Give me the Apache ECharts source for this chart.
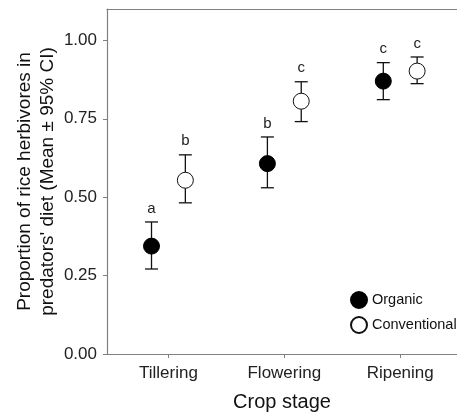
<!DOCTYPE html>
<html>
<head>
<meta charset="utf-8">
<script src="https://cdn.jsdelivr.net/npm/echarts@6/dist/echarts.min.js"></script>
<style>
  html, body { margin: 0; padding: 0; background: #fff; }
  #chart { width: 457px; height: 412px; }
</style>
</head>
<body>
<div id="chart"></div>
<script>
'use strict';

// values (proportion, mean and 95% CI)
const stages = ['Tillering', 'Flowering', 'Ripening'];
const organicMean = [0.344, 0.607, 0.870];
const organicLow = [0.271, 0.530, 0.811];
const organicHigh = [0.421, 0.692, 0.929];
const convMean = [0.554, 0.806, 0.902];
const convLow = [0.482, 0.741, 0.862];
const convHigh = [0.635, 0.868, 0.947];
const organicLetters = ['a', 'b', 'c'];
const convLetters = ['b', 'c', 'c'];
const yTicks = [0, 0.25, 0.5, 0.75, 1.0];

const FONT = '"Liberation Sans", Arial, sans-serif';
const dodge = 0.146;
const stageX = stages.map((s, i) => i + 1);

function errorBars(low, high, letters, shift) {
  return {
    type: 'custom',
    z: 2,
    silent: true,
    encode: { x: 0, y: [1, 2] },
    data: stageX.map((x, i) => [x + shift, low[i], high[i]]),
    renderItem: function (params, api) {
      const x = api.value(0);
      const lo = api.coord([x, api.value(1)]);
      const hi = api.coord([x, api.value(2)]);
      const half = 6.5;
      const stroke = { stroke: '#111', lineWidth: 1.3 };
      return {
        type: 'group',
        children: [
          { type: 'line', shape: { x1: lo[0], y1: lo[1], x2: hi[0], y2: hi[1] }, style: stroke },
          { type: 'line', shape: { x1: lo[0] - half, y1: lo[1], x2: lo[0] + half, y2: lo[1] }, style: stroke },
          { type: 'line', shape: { x1: hi[0] - half, y1: hi[1], x2: hi[0] + half, y2: hi[1] }, style: stroke },
          {
            type: 'text',
            style: {
              text: letters[params.dataIndex],
              x: hi[0], y: hi[1] - 13.5,
              align: 'center', verticalAlign: 'middle',
              font: '15px ' + FONT, fill: '#222'
            }
          }
        ]
      };
    }
  };
}

const chart = echarts.init(document.getElementById('chart'), null, { renderer: 'canvas' });

chart.setOption({
  animation: false,
  backgroundColor: '#fff',
  textStyle: { fontFamily: FONT },
  grid: { left: 107, right: 0, top: 9, bottom: 58, containLabel: false, outerBoundsMode: 'none' },
  legend: {
    orient: 'vertical',
    left: 350,
    top: 291,
    padding: 0,
    itemWidth: 16,
    itemHeight: 16,
    itemGap: 7,
    icon: 'circle',
    textStyle: { fontSize: 14.5, color: '#111', fontFamily: FONT },
    data: ['Organic', 'Conventional']
  },
  xAxis: [{
    type: 'value',
    min: 0.47,
    max: 3.49,
    name: 'Crop stage',
    nameLocation: 'middle',
    nameGap: 38,
    nameMoveOverlap: false,
    nameTextStyle: { fontSize: 20, color: '#111', fontFamily: FONT },
    axisLine: { show: true, lineStyle: { color: '#808080', width: 1.2 } },
    axisTick: { show: true, length: 4, customValues: stageX, lineStyle: { color: '#808080' } },
    axisLabel: {
      customValues: stageX,
      formatter: v => stages[Math.round(v) - 1],
      fontSize: 17, color: '#222', margin: 11, fontFamily: FONT
    },
    splitLine: { show: false }
  }, {
    type: 'value',
    position: 'top',
    min: 0.47,
    max: 3.49,
    axisLine: { show: true, lineStyle: { color: '#808080', width: 1.2 } },
    axisTick: { show: false },
    axisLabel: { show: false },
    splitLine: { show: false }
  }],
  yAxis: {
    type: 'value',
    min: 0,
    max: 1.1,
    name: 'Proportion of rice herbivores in\npredators\' diet (Mean \u00b1 95% CI)',
    nameLocation: 'middle',
    nameGap: 48,
    nameMoveOverlap: false,
    nameTextStyle: { fontSize: 19, lineHeight: 23, color: '#111', fontFamily: FONT },
    axisLine: { show: true, lineStyle: { color: '#808080', width: 1.2 } },
    axisTick: { show: true, length: 4, customValues: yTicks, lineStyle: { color: '#808080' } },
    axisLabel: {
      customValues: yTicks,
      formatter: v => v.toFixed(2),
      fontSize: 17, color: '#222', margin: 10, fontFamily: FONT
    },
    splitLine: { show: false }
  },
  series: [
    errorBars(organicLow, organicHigh, organicLetters, -dodge),
    errorBars(convLow, convHigh, convLetters, dodge),
    {
      name: 'Organic',
      type: 'scatter',
      z: 3,
      symbol: 'circle',
      symbolSize: 16,
      itemStyle: { color: '#000', borderColor: '#000', borderWidth: 1, opacity: 1 },
      data: stageX.map((x, i) => [x - dodge, organicMean[i]])
    },
    {
      name: 'Conventional',
      type: 'scatter',
      z: 3,
      symbol: 'circle',
      symbolSize: 16,
      itemStyle: { color: '#fff', borderColor: '#111', borderWidth: 1, opacity: 1 },
      data: stageX.map((x, i) => [x + dodge, convMean[i]])
    }
  ]
});
</script>
</body>
</html>
